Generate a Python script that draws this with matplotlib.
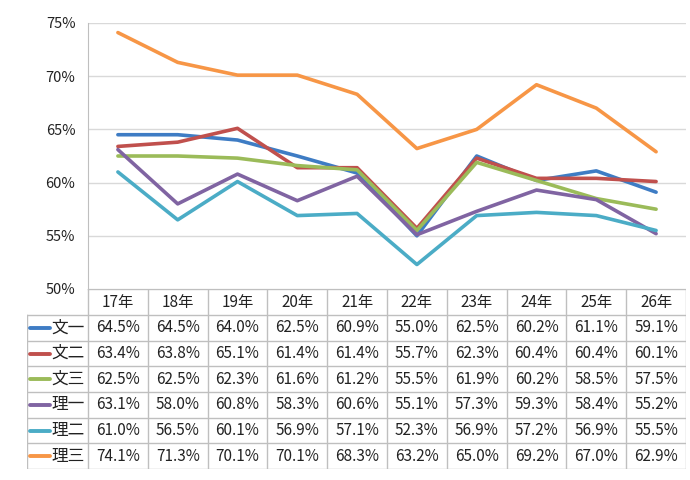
import matplotlib
matplotlib.use('Agg')
import matplotlib.pyplot as plt

plt.rcParams['font.family'] = ['Noto Sans CJK JP', 'DejaVu Sans']

# Data
years = ['17年', '18年', '19年', '20年', '21年', '22年', '23年', '24年', '25年', '26年']
series_names = ['文一', '文二', '文三', '理一', '理二', '理三']
bun1 = [64.5, 64.5, 64.0, 62.5, 60.9, 55.0, 62.5, 60.2, 61.1, 59.1]
bun2 = [63.4, 63.8, 65.1, 61.4, 61.4, 55.7, 62.3, 60.4, 60.4, 60.1]
bun3 = [62.5, 62.5, 62.3, 61.6, 61.2, 55.5, 61.9, 60.2, 58.5, 57.5]
ri1 = [63.1, 58.0, 60.8, 58.3, 60.6, 55.1, 57.3, 59.3, 58.4, 55.2]
ri2 = [61.0, 56.5, 60.1, 56.9, 57.1, 52.3, 56.9, 57.2, 56.9, 55.5]
ri3 = [74.1, 71.3, 70.1, 70.1, 68.3, 63.2, 65.0, 69.2, 67.0, 62.9]
series = [bun1, bun2, bun3, ri1, ri2, ri3]
colors = ['#3E7CC4', '#C0504D', '#9BBB59', '#8064A2', '#4BACC6', '#F79646']

W, H = 690, 480
fig = plt.figure(figsize=(W / 100, H / 100), dpi=100)

# chart area (pixel geometry)
x0, x1 = 88, 686
y_top, y_bot = 23, 289
ax = fig.add_axes([x0 / W, 1 - y_bot / H, (x1 - x0) / W, (y_bot - y_top) / H])
xs = [i + 0.5 for i in range(len(years))]
for vals, c in zip(series, colors):
    ax.plot(xs, vals, color=c, lw=2.6, solid_capstyle='round', solid_joinstyle='round')
ax.set_xlim(0, len(years))
ax.set_ylim(50, 75)
ax.set_yticks(range(50, 76, 5))
ax.set_yticklabels([f'{v}%' for v in range(50, 76, 5)], fontsize=10.5, color='#222222')
ax.set_xticks([])
ax.grid(axis='y', color='#D9D9D9', lw=1)
ax.set_axisbelow(True)
for s in ['top', 'right', 'bottom']:
    ax.spines[s].set_visible(False)
ax.spines['left'].set_color('#BFBFBF')
ax.tick_params(axis='y', length=0, pad=9)

# data table
tx0, tx1 = 27, 686
t_top, t_bot = 289, 469
tax = fig.add_axes([tx0 / W, 1 - t_bot / H, (tx1 - tx0) / W, (t_bot - t_top) / H])
tax.set_xlim(tx0, tx1)
tax.set_ylim(t_bot, t_top)
tax.axis('off')
lc = '#BFBFBF'
col_w = (x1 - x0) / len(years)
hdr_bot = 315
row_h = (t_bot - hdr_bot) / len(series_names)

# horizontal lines
tax.plot([x0, x1], [t_top, t_top], color=lc, lw=1)
for r in range(len(series_names) + 1):
    y = hdr_bot + r * row_h
    tax.plot([tx0, x1], [y, y], color=lc, lw=1)
# vertical lines
tax.plot([tx0, tx0], [hdr_bot, t_bot], color=lc, lw=1)
for i in range(len(years) + 1):
    x = x0 + i * col_w
    tax.plot([x, x], [t_top, t_bot], color=lc, lw=1)

for i, yr in enumerate(years):
    tax.text(x0 + (i + 0.5) * col_w, (t_top + hdr_bot) / 2, yr, ha='center', va='center',
             fontsize=11, color='#222222')
for r, (name, vals, c) in enumerate(zip(series_names, series, colors)):
    yc = hdr_bot + (r + 0.5) * row_h
    tax.plot([30, 50], [yc, yc], color=c, lw=2.8, solid_capstyle='round')
    tax.text(51, yc, name, ha='left', va='center', fontsize=12, color='#222222')
    for i, v in enumerate(vals):
        tax.text(x0 + (i + 0.5) * col_w, yc, f'{v:.1f}%', ha='center', va='center',
                 fontsize=11, color='#222222')

fig.savefig('out.png', dpi=100, facecolor='white')
